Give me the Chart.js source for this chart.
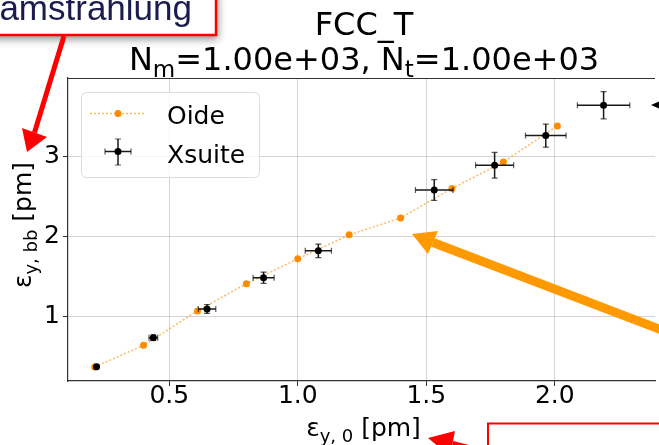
<!DOCTYPE html>
<html><head><meta charset="utf-8">
<script src="https://cdn.jsdelivr.net/npm/chart.js@4/dist/chart.umd.min.js"></script>
<style>html,body{margin:0;padding:0;background:#fff;overflow:hidden}canvas{display:block}</style>
</head><body>
<canvas id="c" width="659" height="445"></canvas>
<script>
// ---- data ----
const seriesNames = ["Oide", "Xsuite"];
const oideX = [0.21, 0.40, 0.61, 0.80, 1.00, 1.20, 1.40, 1.60, 1.80, 2.01];
const oideY = [0.37, 0.64, 1.07, 1.41, 1.72, 2.02, 2.23, 2.60, 2.93, 3.38];
const xsuiteX = [0.217, 0.438, 0.647, 0.867, 1.08, 1.531, 1.766, 1.965, 2.19];
const xsuiteY = [0.373, 0.735, 1.094, 1.485, 1.82, 2.58, 2.89, 3.26, 3.64];
const xsuiteXErr = [0.005, 0.017, 0.034, 0.041, 0.051, 0.073, 0.074, 0.079, 0.102];
const xsuiteYErr = [0.01, 0.035, 0.056, 0.07, 0.085, 0.13, 0.16, 0.144, 0.17];
const xTicks = [0.5, 1.0, 1.5, 2.0];
const yTicks = [1, 2, 3];
const xRange = [0.106, 2.39];
const yRange = [0.194, 3.98];
const titleLine1 = "FCC_T";
const titleLine2 = [["N", 0], ["m", 1], ["=1.00e+03, ", 0], ["N", 0], ["t", 1], ["=1.00e+03", 0]];
const xLabel = [["ε", 0], ["y, 0", 1], [" [pm]", 0]];
const yLabel = [["ε", 0], ["y, bb", 1], [" [pm]", 0]];
const noteText = "Beamstrahlung";

const FONT = "'DejaVu Sans', sans-serif";
const ORANGE = "#ff8c00";

function drawMixed(ctx, parts, x, y, fs, align) {
  const widths = parts.map(([t, s]) => {
    ctx.font = (s ? fs * 0.72 : fs) + "px " + FONT;
    return ctx.measureText(t).width;
  });
  const total = widths.reduce((a, b) => a + b, 0);
  let cx = align === "center" ? x - total / 2 : x;
  ctx.textAlign = "left";
  ctx.textBaseline = "alphabetic";
  parts.forEach(([t, s], i) => {
    ctx.font = (s ? fs * 0.72 : fs) + "px " + FONT;
    ctx.fillText(t, cx, y + (s ? fs * 0.22 : 0));
    cx += widths[i];
  });
}

function errBar(ctx, px, py, x0, x1, y0, y1, cap) {
  ctx.strokeStyle = "rgba(0,0,0,0.9)";
  ctx.lineWidth = 1.5;
  ctx.beginPath();
  ctx.moveTo(x0, py); ctx.lineTo(x1, py);
  ctx.moveTo(px, y0); ctx.lineTo(px, y1);
  ctx.stroke();
  ctx.strokeStyle = "rgba(0,0,0,0.65)";
  ctx.lineWidth = 1.2;
  ctx.beginPath();
  ctx.moveTo(x0, py - cap); ctx.lineTo(x0, py + cap);
  ctx.moveTo(x1, py - cap); ctx.lineTo(x1, py + cap);
  ctx.moveTo(px - cap, y0); ctx.lineTo(px + cap, y0);
  ctx.moveTo(px - cap, y1); ctx.lineTo(px + cap, y1);
  ctx.stroke();
}

function arrow(ctx, color, lw, tip, b1, b2, tail) {
  ctx.fillStyle = color; ctx.strokeStyle = color; ctx.lineWidth = lw;
  const mx = (b1[0] + b2[0]) / 2, my = (b1[1] + b2[1]) / 2;
  ctx.beginPath(); ctx.moveTo(tail[0], tail[1]); ctx.lineTo(mx, my); ctx.stroke();
  ctx.beginPath(); ctx.moveTo(tip[0], tip[1]); ctx.lineTo(b1[0], b1[1]); ctx.lineTo(b2[0], b2[1]); ctx.closePath(); ctx.fill();
}

const decor = {
  id: "decor",
  beforeDraw(chart) {
    const ctx = chart.ctx;
    ctx.save(); ctx.fillStyle = "#fff"; ctx.fillRect(0, 0, chart.width, chart.height); ctx.restore();
  },
  afterDatasetDraw(chart, args) {
    if (args.index !== 1) return; // after Oide, before Xsuite markers
    const ctx = chart.ctx, xs = chart.scales.x, ys = chart.scales.y, a = chart.chartArea;
    ctx.save();
    ctx.beginPath(); ctx.rect(a.left, a.top, a.right - a.left, a.bottom - a.top); ctx.clip();
    for (let i = 0; i < xsuiteX.length; i++) {
      const px = xs.getPixelForValue(xsuiteX[i]), py = ys.getPixelForValue(xsuiteY[i]);
      errBar(ctx, px, py,
        xs.getPixelForValue(xsuiteX[i] - xsuiteXErr[i]), xs.getPixelForValue(xsuiteX[i] + xsuiteXErr[i]),
        ys.getPixelForValue(xsuiteY[i] + xsuiteYErr[i]), ys.getPixelForValue(xsuiteY[i] - xsuiteYErr[i]), 3);
    }
    ctx.restore();
  },
  afterDraw(chart) {
    const ctx = chart.ctx, a = chart.chartArea;
    ctx.save();
    // top spine
    ctx.strokeStyle = "#333"; ctx.lineWidth = 1.2;
    ctx.beginPath(); ctx.moveTo(a.left, a.top + 0.5); ctx.lineTo(a.right, a.top + 0.5); ctx.stroke();
    // title
    ctx.fillStyle = "#000";
    const cx = 364;
    ctx.font = "32px " + FONT; ctx.textAlign = "center"; ctx.textBaseline = "alphabetic";
    ctx.fillText(titleLine1, cx, 35);
    drawMixed(ctx, titleLine2, cx, 70, 32, "center");
    // axis labels
    drawMixed(ctx, xLabel, 363.5, 436, 25, "center");
    ctx.save(); ctx.translate(31, 225); ctx.rotate(-Math.PI / 2);
    drawMixed(ctx, yLabel, 0, 0, 25, "center"); ctx.restore();
    // legend
    ctx.beginPath();
    ctx.roundRect(81.5, 92.5, 178, 85, 5);
    ctx.fillStyle = "rgba(255,255,255,0.8)"; ctx.fill();
    ctx.strokeStyle = "#dcdcdc"; ctx.lineWidth = 1; ctx.stroke();
    ctx.strokeStyle = "rgba(255,140,0,0.6)"; ctx.lineWidth = 1.5; ctx.setLineDash([2, 2]);
    ctx.beginPath(); ctx.moveTo(90, 113.5); ctx.lineTo(145, 113.5); ctx.stroke();
    ctx.setLineDash([]);
    ctx.fillStyle = ORANGE; ctx.beginPath(); ctx.arc(118, 113.5, 3.5, 0, 2 * Math.PI); ctx.fill();
    errBar(ctx, 118, 151.5, 105, 131, 139, 165, 3);
    ctx.fillStyle = "#000"; ctx.beginPath(); ctx.arc(118, 151.5, 3.5, 0, 2 * Math.PI); ctx.fill();
    ctx.font = "25px " + FONT; ctx.textAlign = "left"; ctx.textBaseline = "alphabetic";
    ctx.fillText(seriesNames[0], 167, 124);
    ctx.fillText(seriesNames[1], 167, 162.5);
    // ---- overlay annotations ----
    ctx.save();
    ctx.shadowColor = "rgba(0,0,0,0.45)"; ctx.shadowBlur = 8; ctx.shadowOffsetX = 2; ctx.shadowOffsetY = 4;
    ctx.fillStyle = "#fff"; ctx.fillRect(-10, -10, 226, 45);
    ctx.restore();
    ctx.strokeStyle = "#ff0000"; ctx.lineWidth = 2.5; ctx.strokeRect(-10, -10, 226, 45);
    ctx.fillStyle = "#1b1b4f"; ctx.font = "35px 'Liberation Sans', Arial, sans-serif";
    ctx.textAlign = "right"; ctx.fillText(noteText, 192, 20);
    arrow(ctx, "#ff0000", 5, [27, 152], [22, 128], [47, 137], [64, 36]);
    arrow(ctx, "#ff9900", 9, [412, 234], [438, 231], [428, 254], [680, 337]);
    arrow(ctx, "#000", 2, [651, 105], [667, 98], [667, 112], [680, 105]);
    ctx.fillStyle = "#fff"; ctx.fillRect(488, 423.5, 200, 40);
    ctx.strokeStyle = "#ff0000"; ctx.lineWidth = 2; ctx.strokeRect(488, 423.5, 200, 40);
    arrow(ctx, "#ff0000", 5, [428, 438], [455, 431], [450, 456], [487, 452]);
    ctx.restore();
  }
};

const gridColor = "rgba(176,176,176,0.55)";
new Chart(document.getElementById("c"), {
  type: "scatter",
  data: {
    datasets: [
      {
        label: seriesNames[1],
        data: xsuiteX.map((x, i) => ({ x, y: xsuiteY[i] })),
        backgroundColor: "#000", borderColor: "#000",
        pointRadius: 3.5, pointBorderWidth: 0, showLine: false
      },
      {
        label: seriesNames[0],
        data: oideX.map((x, i) => ({ x, y: oideY[i] })),
        showLine: true, borderColor: "rgba(255,140,0,0.6)", borderWidth: 1.5, borderDash: [2, 2],
        backgroundColor: ORANGE, pointBackgroundColor: ORANGE, pointBorderWidth: 0, pointRadius: 3.5
      }
    ]
  },
  options: {
    responsive: false, animation: false, devicePixelRatio: 1,
    layout: { padding: { top: 78, left: 0, right: 0, bottom: 0 } },
    plugins: { legend: { display: false }, tooltip: { enabled: false }, title: { display: false } },
    scales: {
      x: {
        type: "linear", min: xRange[0], max: xRange[1],
        afterBuildTicks: s => { s.ticks = xTicks.map(v => ({ value: v })); },
        afterFit: s => { s.height = 64; },
        grid: { color: gridColor, lineWidth: 1, tickLength: 5, tickColor: "#333", drawTicks: true },
        border: { display: true, color: "#333", width: 1.2 },
        ticks: { color: "#000", font: { family: "DejaVu Sans", size: 25 }, padding: -5, maxRotation: 0,
                 callback: v => Number(v).toFixed(1) }
      },
      y: {
        type: "linear", min: yRange[0], max: yRange[1],
        afterBuildTicks: s => { s.ticks = yTicks.map(v => ({ value: v })); },
        afterFit: s => { s.width = 68; },
        grid: { color: gridColor, lineWidth: 1, tickLength: 5, tickColor: "#333", drawTicks: true },
        border: { display: true, color: "#333", width: 1.2 },
        ticks: { color: "#000", font: { family: "DejaVu Sans", size: 25 }, padding: 3,
                 callback: v => String(v) }
      }
    }
  },
  plugins: [decor]
});
</script>
</body></html>
